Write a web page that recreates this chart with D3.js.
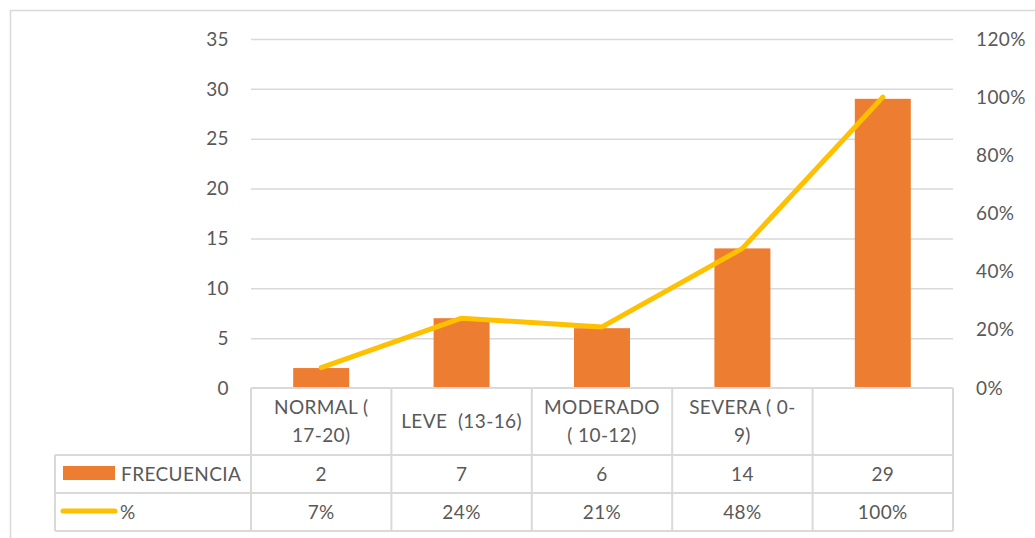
<!DOCTYPE html>
<html><head><meta charset="utf-8">
<script src="https://cdn.jsdelivr.net/npm/d3@7"></script>
<style>body{margin:0;background:#fff}svg{display:block}text{font-family:Lato,"Open Sans",sans-serif;fill:#595959;white-space:pre;letter-spacing:0.4px}</style>
</head><body>
<script>
const categories = [["NORMAL (", "17-20)"], ["LEVE  (13-16)"], ["MODERADO", "( 10-12)"], ["SEVERA ( 0-", "9)"], [""]];
const frecuencia = [2, 7, 6, 14, 29];
const porcentaje = [0.07, 0.24, 0.21, 0.48, 1.00];
const pctLabels = ["7%", "24%", "21%", "48%", "100%"];
const leftTicks = [0, 5, 10, 15, 20, 25, 30, 35];
const rightTicks = [0, 0.2, 0.4, 0.6, 0.8, 1.0, 1.2];

const W = 1035, H = 538;
const svg = d3.select("body").append("svg").attr("width", W).attr("height", H);
const grid = "#d9d9d9";
const fs = 19;

// outer border
svg.append("path").attr("d", `M10.5,${H}V10.5H${W}`).attr("fill","none").attr("stroke",grid).attr("stroke-width",1.5);

const x0 = 251, x1 = 953, yTop = 39, yBot = 388;
const x = d3.scaleBand().domain(d3.range(5)).range([x0, x1]).paddingInner(0).paddingOuter(0);
const yL = d3.scaleLinear().domain([0, 35]).range([yBot, yTop]);
const yR = d3.scaleLinear().domain([0, 1.2]).range([yBot, yTop]);

// gridlines
svg.append("g").selectAll("line").data(leftTicks.filter(d=>d>0)).join("line")
  .attr("x1", x0).attr("x2", x1).attr("y1", d=>yL(d)+0.5).attr("y2", d=>yL(d)+0.5)
  .attr("stroke", grid).attr("stroke-width", 1.5);

// left axis labels
svg.append("g").selectAll("text").data(leftTicks).join("text")
  .attr("x", 229).attr("y", d=>yL(d)).attr("dy","0.35em").attr("text-anchor","end")
  .attr("font-size", fs).text(d=>d);
// right axis labels
svg.append("g").selectAll("text").data(rightTicks).join("text")
  .attr("x", 976).attr("y", d=>yR(d)).attr("dy","0.35em").attr("text-anchor","start")
  .attr("font-size", fs).text(d=>d3.format(".0%")(d));

// bars
const bw = 56;
svg.append("g").selectAll("rect").data(frecuencia).join("rect")
  .attr("x", (d,i)=>x(i)+x.bandwidth()/2-bw/2).attr("width", bw)
  .attr("y", d=>yL(d)).attr("height", d=>yBot-yL(d)).attr("fill","#ED7D31");

// line
const line = d3.line().x((d,i)=>x(i)+x.bandwidth()/2).y(d=>yR(d));
svg.append("path").datum(porcentaje).attr("d", line).attr("fill","none")
  .attr("stroke","#FFC000").attr("stroke-width",5).attr("stroke-linecap","round").attr("stroke-linejoin","round");

// data table
const r0 = 388, r1 = 455, r2 = 493, r3 = 531, lx = 55;
const tb = svg.append("g").attr("stroke", grid).attr("stroke-width", 2).attr("fill","none");
tb.append("line").attr("x1",x0).attr("x2",x1).attr("y1",r0).attr("y2",r0);
[r1,r2,r3].forEach(r=>tb.append("line").attr("x1",lx).attr("x2",x1).attr("y1",r).attr("y2",r));
tb.append("line").attr("x1",lx).attr("x2",lx).attr("y1",r1).attr("y2",r3);
d3.range(6).forEach(i=>{
  const xx = i<5 ? x(i) : x1;
  tb.append("line").attr("x1",xx).attr("x2",xx).attr("y1",r0).attr("y2",r3);
});

// header labels
categories.forEach((lines,i)=>{
  const cx = x(i)+x.bandwidth()/2;
  const cy = (r0+r1)/2;
  const lh = 28;
  lines.forEach((t,j)=>{
    svg.append("text").attr("x",cx).attr("y", cy + (j-(lines.length-1)/2)*lh).attr("dy","0.35em")
      .attr("text-anchor","middle").attr("font-size",fs).text(t);
  });
});
// values rows
frecuencia.forEach((v,i)=>{
  svg.append("text").attr("x",x(i)+x.bandwidth()/2).attr("y",(r1+r2)/2).attr("dy","0.35em")
    .attr("text-anchor","middle").attr("font-size",fs).text(v);
});
pctLabels.forEach((v,i)=>{
  svg.append("text").attr("x",x(i)+x.bandwidth()/2).attr("y",(r2+r3)/2).attr("dy","0.35em")
    .attr("text-anchor","middle").attr("font-size",fs).text(v);
});
// legend keys
svg.append("rect").attr("x",63).attr("y",466).attr("width",52).attr("height",14).attr("fill","#ED7D31");
svg.append("text").attr("x",121).attr("y",(r1+r2)/2).attr("dy","0.35em").attr("font-size",fs).text("FRECUENCIA");
svg.append("line").attr("x1",63).attr("x2",115).attr("y1",511).attr("y2",511).attr("stroke","#FFC000").attr("stroke-width",5).attr("stroke-linecap","round");
svg.append("text").attr("x",120).attr("y",(r2+r3)/2).attr("dy","0.35em").attr("font-size",fs).text("%");
</script>
</body></html>
